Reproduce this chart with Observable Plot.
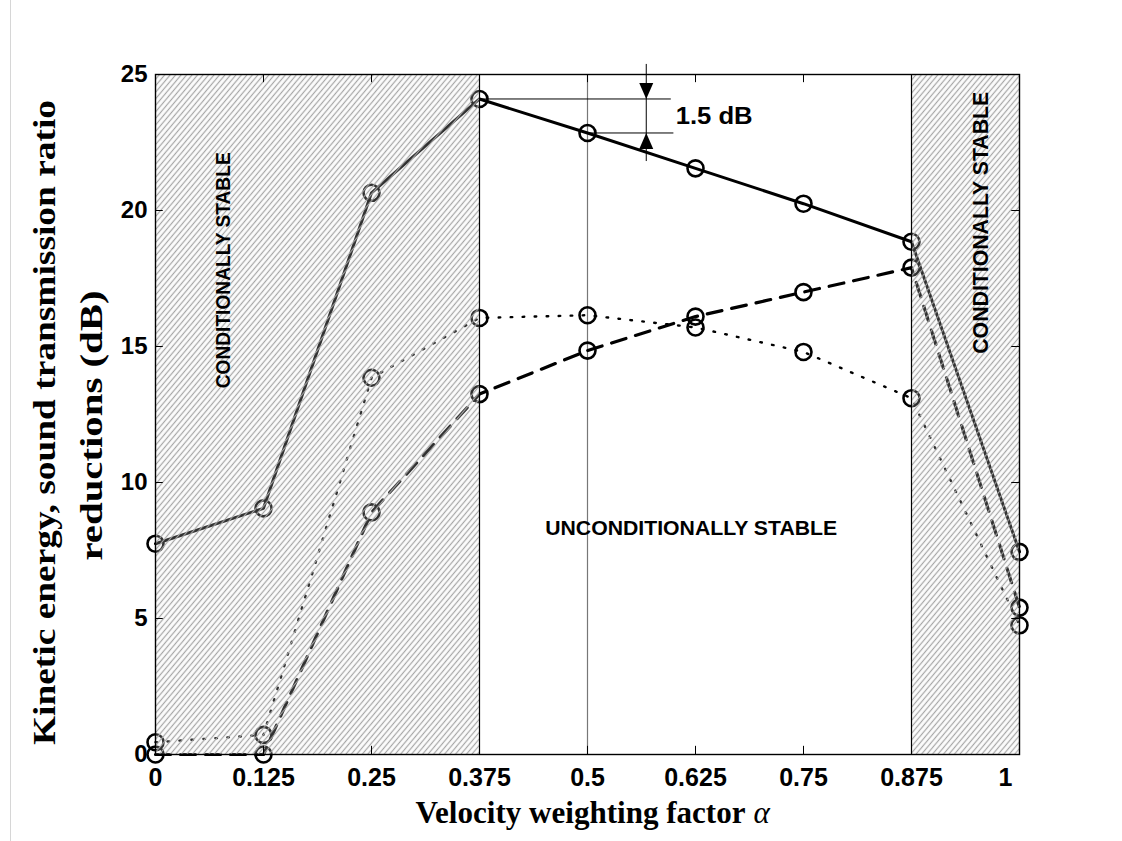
<!DOCTYPE html>
<html>
<head>
<meta charset="utf-8">
<script src="https://cdn.jsdelivr.net/npm/d3@7"></script>
<script src="https://cdn.jsdelivr.net/npm/@observablehq/plot@0.6"></script>
<style>
  html, body { margin: 0; padding: 0; background: #fff; }
  #page { position: relative; width: 1122px; height: 841px; overflow: hidden; }
  #edge { position: absolute; left: 10px; top: 0; width: 1px; height: 841px; background: #d6d6d6; }
  #chart { position: absolute; left: 0; top: 0; }
</style>
</head>
<body>
<div id="page"><div id="edge"></div><div id="chart"></div></div>
<script>
// Velocity weighting factor α
const alpha = [0, 0.125, 0.25, 0.375, 0.5, 0.625, 0.75, 0.875, 1];

// Reductions in dB for each α
const solidSeries  = [7.75, 9.05, 20.65, 24.1, 22.85, 21.55, 20.25, 18.85, 7.45];
const dashedSeries = [0, 0, 8.9, 13.25, 14.85, 16.1, 17.0, 17.9, 5.4];
const dottedSeries = [0.45, 0.72, 13.85, 16.05, 16.15, 15.7, 14.8, 13.1, 4.75];

// Stability ranges of α
const conditionalRanges = [[0, 0.375], [0.875, 1]];
const rangeBounds = [0.375, 0.875];
const centreLine = [0.5];

// Axis ticks
const xTicks = [0, 0.125, 0.25, 0.375, 0.5, 0.625, 0.75, 0.875, 1];
const xTickLabels = ["0", "0.125", "0.25", "0.375", "0.5", "0.625", "0.75", "0.875", "1"];
const yTicks = [0, 5, 10, 15, 20, 25];
const yTickLabels = ["0", "5", "10", "15", "20", "25"];

const rowsOf = (vals) => alpha.map((a, i) => ({a, v: vals[i]}));
const solidRows = rowsOf(solidSeries);
const dashedRows = rowsOf(dashedSeries);
const dottedRows = rowsOf(dottedSeries);

// 1.5 dB gap marked between α = 0.375 and α = 0.5 on the solid curve
const gapTop = solidSeries[3];
const gapBottom = solidSeries[4];

const serif = "'Liberation Serif', 'Times New Roman', serif";
const sans = "'Liberation Sans', Arial, sans-serif";

const svg = Plot.plot({
  width: 1122,
  height: 841,
  marginLeft: 155,
  marginRight: 103,
  marginTop: 74,
  marginBottom: 87,
  style: {fontFamily: sans, background: "transparent"},
  x: {domain: [0, 1]},
  y: {domain: [0, 25]},
  marks: [
    Plot.ruleX(centreLine, {stroke: "#777", strokeWidth: 1.2}),

    Plot.line(dottedRows, {x: "a", y: "v", stroke: "black", strokeWidth: 2.4, strokeDasharray: "1.6,10.4"}),
    Plot.line(dashedRows, {x: "a", y: "v", stroke: "black", strokeWidth: 3.2, strokeDasharray: "15,10"}),
    Plot.line(solidRows, {x: "a", y: "v", stroke: "black", strokeWidth: 3}),
    Plot.dot(dottedRows, {x: "a", y: "v", r: 8, stroke: "black", strokeWidth: 2.6, fill: "none"}),
    Plot.dot(dashedRows, {x: "a", y: "v", r: 8, stroke: "black", strokeWidth: 2.6, fill: "none"}),
    Plot.dot(solidRows, {x: "a", y: "v", r: 8, stroke: "black", strokeWidth: 2.6, fill: "none"}),

    // hatched conditionally stable ranges (fill set to a pattern below)
    Plot.rect(conditionalRanges, {x1: d => d[0], x2: d => d[1], y1: 0, y2: 25, fill: "#ccc", className: "hatch"}),
    Plot.ruleX(rangeBounds, {stroke: "black", strokeWidth: 1.2}),

    Plot.text(["CONDITIONALLY STABLE"], {text: d => d, x: 0.079, y: 17.8, rotate: -90, fontSize: 21, fontWeight: "bold", fill: "black", className: "cs-left"}),
    Plot.text(["CONDITIONALLY STABLE"], {text: d => d, x: 0.955, y: 19.55, rotate: -90, fontSize: 22, fontWeight: "bold", fill: "black", className: "cs-right"}),
    Plot.text(["UNCONDITIONALLY STABLE"], {text: d => d, x: 0.62, y: 8.3, fontSize: 20, fontWeight: "bold", fill: "black", className: "us"}),

    // 1.5 dB annotation
    Plot.ruleY([gapTop], {x1: alpha[3], x2: 0.597, stroke: "black", strokeWidth: 1}),
    Plot.ruleY([gapBottom], {x1: alpha[4], x2: 0.600, stroke: "black", strokeWidth: 1}),
    Plot.ruleX([0.568], {y1: 21.8, y2: 25.37, stroke: "black", strokeWidth: 1}),
    Plot.vector([gapTop], {x: 0.568, y: d => d, rotate: 180, length: 16, anchor: "end", shape: "spike", r: 7, fill: "black", stroke: "none"}),
    Plot.vector([gapBottom], {x: 0.568, y: d => d, rotate: 0, length: 16, anchor: "end", shape: "spike", r: 7, fill: "black", stroke: "none"}),
    Plot.text(["1.5 dB"], {text: d => d, x: 0.602, y: (gapTop + gapBottom) / 2, textAnchor: "start", fontSize: 24, fontWeight: "bold", fill: "black", className: "gap"}),

    // inward ticks
    Plot.ruleX(xTicks, {y1: 0, y2: 0.3, stroke: "black", strokeWidth: 1}),
    Plot.ruleX(xTicks, {y1: 24.7, y2: 25, stroke: "black", strokeWidth: 1}),
    Plot.ruleY(yTicks, {x1: 0, x2: 0.009, stroke: "black", strokeWidth: 1}),
    Plot.ruleY(yTicks, {x1: 0.991, x2: 1, stroke: "black", strokeWidth: 1}),
    Plot.frame({stroke: "black", strokeWidth: 1.4}),

    Plot.axisX({ticks: xTicks, tickSize: 0, tickPadding: 14, label: null,
      tickFormat: d => xTickLabels[xTicks.indexOf(d)], fontSize: 25, fontWeight: "bold", fill: "black", className: "xticks"}),
    Plot.axisY({ticks: yTicks, tickSize: 0, tickPadding: 8, label: null,
      tickFormat: d => yTickLabels[yTicks.indexOf(d)], fontSize: 24, fontWeight: "bold", fill: "black"}),

    // axis titles
    Plot.text(["Velocity weighting factor"], {text: d => d, frameAnchor: "bottom", dx: 158, dy: 68, textAnchor: "end",
      fontFamily: serif, fontSize: 31, fontWeight: "bold", fill: "black", className: "xtitle"}),
    Plot.text(["α"], {text: d => d, frameAnchor: "bottom", dx: 166, dy: 68, textAnchor: "start",
      fontFamily: serif, fontSize: 31, fontStyle: "italic", fill: "black"}),
    Plot.text(["Kinetic energy, sound transmission ratio"], {text: d => d, frameAnchor: "left", dx: -110, dy: 8, rotate: -90,
      textAnchor: "middle", fontFamily: serif, fontSize: 31, fontWeight: "bold", fill: "black", className: "ytitle1"}),
    Plot.text(["reductions (dB)"], {text: d => d, frameAnchor: "left", dx: -63, dy: 11, rotate: -90,
      textAnchor: "middle", fontFamily: serif, fontSize: 31, fontWeight: "bold", fill: "black", className: "ytitle2"})
  ]
});

document.getElementById("chart").appendChild(svg);

// diagonal hatch pattern for the conditionally stable ranges
const root = d3.select(svg);
const defs = root.insert("defs", ":first-child");
const pat = defs.append("pattern")
  .attr("id", "hatch")
  .attr("patternUnits", "userSpaceOnUse")
  .attr("width", 4.2)
  .attr("height", 4.2)
  .attr("patternTransform", "rotate(40)");
pat.append("rect").attr("width", 4.2).attr("height", 4.2).attr("fill", "#f0f0f0").attr("fill-opacity", 0.2);
pat.append("line").attr("x1", 2.1).attr("y1", 0).attr("x2", 2.1).attr("y2", 4.2)
  .attr("stroke", "#a6a6a6").attr("stroke-width", 1.2);
root.selectAll(".hatch rect").attr("fill", "url(#hatch)");

// the last α label sits slightly left of its tick
root.selectAll(".xticks text").filter(function () { return this.textContent === "1"; }).attr("dx", -14);

// fit text runs to their set lengths
const fit = (cls, len) => root.selectAll(`.${cls} text`)
  .attr("textLength", len).attr("lengthAdjust", "spacingAndGlyphs");
fit("cs-left", 236);
fit("cs-right", 262);
fit("us", 292);
fit("gap", 77);
fit("xtitle", 330);
fit("ytitle1", 645);
fit("ytitle2", 270);
</script>
</body>
</html>
